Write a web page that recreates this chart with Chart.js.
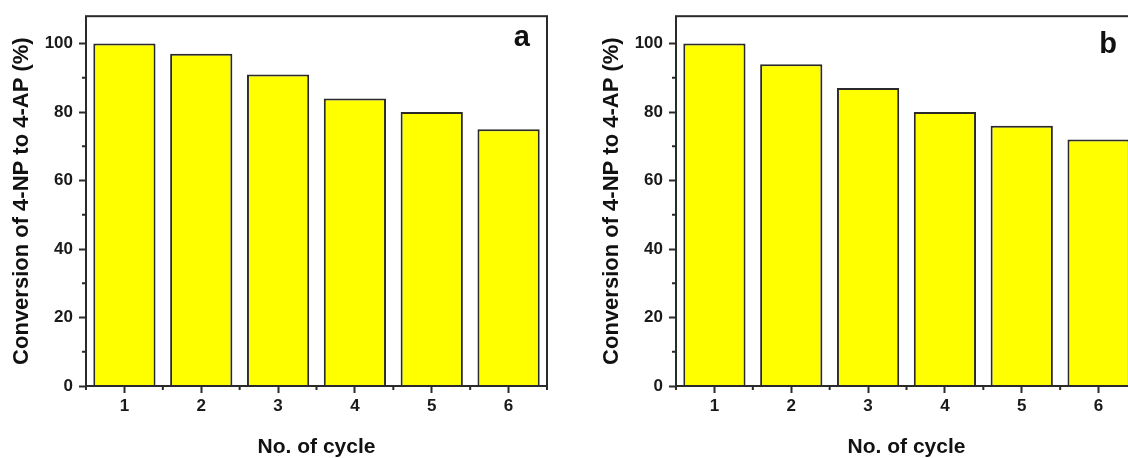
<!DOCTYPE html>
<html>
<head>
<meta charset="utf-8">
<script src="https://cdn.jsdelivr.net/npm/chart.js@4/dist/chart.umd.min.js"></script>
<style>
  html, body { margin: 0; padding: 0; background: #fff; overflow: hidden; width: 1128px; height: 458px; }
  canvas { position: absolute; top: 0; }
  #chartA { left: 0; }
  #chartB { left: 590px; }
</style>
</head>
<body>
<canvas id="chartA" width="564" height="458"></canvas>
<canvas id="chartB" width="564" height="458"></canvas>
<script>
// data
var cycles = ['1', '2', '3', '4', '5', '6'];
var conversionA = [100, 97, 91, 84, 80, 75];
var conversionB = [100, 94, 87, 80, 76, 72];
var yMajor = [0, 20, 40, 60, 80, 100];
var yMinor = [10, 30, 50, 70, 90];

var fontFamily = '"Liberation Sans", Arial, sans-serif';
var ink = '#2a2a2a';

// frame box, minor ticks and the panel letter
var framePlugin = {
    id: 'frame',
    afterDraw(chart, args, opts) {
        var ctx = chart.ctx;
        var a = chart.chartArea;
        var x = chart.scales.x;
        var y = chart.scales.y;
        ctx.save();
        ctx.strokeStyle = ink;
        ctx.lineWidth = 2;
        ctx.strokeRect(a.left, a.top, a.right - a.left, a.bottom - a.top);
        ctx.beginPath();
        yMinor.forEach(v => {
            var py = y.getPixelForValue(v);
            ctx.moveTo(a.left - 4, py);
            ctx.lineTo(a.left, py);
        });
        for (var i = 0; i <= cycles.length; i++) {
            var px = x.getPixelForValue(i - 0.5);
            ctx.moveTo(px, a.bottom);
            ctx.lineTo(px, a.bottom + 4);
        }
        ctx.stroke();
        ctx.fillStyle = '#111';
        ctx.font = 'bold 29px ' + fontFamily;
        ctx.textAlign = 'right';
        ctx.textBaseline = 'alphabetic';
        ctx.fillText(opts.label, a.right - opts.dx, a.top + opts.dy);
        ctx.restore();
    }
};

function makePanel(id, values, letter, dx, dy) {
    var ctx = document.getElementById(id).getContext('2d');
    return new Chart(ctx, {
        type: 'bar',
        data: {
            labels: cycles,
            datasets: [
                {
                    data: values,
                    backgroundColor: '#ffff00',
                    borderColor: ink,
                    borderWidth: 2,
                    barPercentage: 0.81,
                    categoryPercentage: 1
                }
            ]
        },
        options: {
            responsive: false,
            animation: false,
            devicePixelRatio: 1,
            layout: { padding: { top: 13, right: 17, left: 0, bottom: 0 } },
            plugins: {
                legend: { display: false },
                tooltip: { enabled: false },
                frame: { label: letter, dx: dx, dy: dy }
            },
            scales: {
                x: {
                    offset: true,
                    border: { display: false },
                    grid: {
                        offset: false,
                        drawOnChartArea: false,
                        drawTicks: true,
                        tickLength: 7,
                        tickColor: ink,
                        tickWidth: 2
                    },
                    ticks: {
                        color: '#1a1a1a',
                        padding: 3,
                        maxRotation: 0,
                        font: { family: fontFamily, size: 17, weight: 'bold' }
                    },
                    title: {
                        display: true,
                        text: 'No. of cycle',
                        color: '#111',
                        padding: { top: 0, bottom: 0 },
                        font: { family: fontFamily, size: 21, weight: 'bold', lineHeight: 1 }
                    },
                    afterFit: s => { s.height = 72; }
                },
                y: {
                    min: 0,
                    max: 108,
                    border: { display: false },
                    afterBuildTicks: s => { s.ticks = yMajor.map(v => ({ value: v })); },
                    grid: {
                        drawOnChartArea: false,
                        drawTicks: true,
                        tickLength: 7,
                        tickColor: ink,
                        tickWidth: 2
                    },
                    ticks: {
                        color: '#1a1a1a',
                        padding: 6,
                        font: { family: fontFamily, size: 17, weight: 'bold' }
                    },
                    title: {
                        display: true,
                        text: 'Conversion of 4-NP to 4-AP (%)',
                        color: '#111',
                        padding: { top: 11, bottom: 0 },
                        font: { family: fontFamily, size: 22, weight: 'bold', lineHeight: 1 }
                    },
                    afterFit: s => { s.width = 86; }
                }
            }
        },
        plugins: [framePlugin]
    });
}

makePanel('chartA', conversionA, 'a', 17, 30);
makePanel('chartB', conversionB, 'b', 20, 37);
</script>
</body>
</html>
